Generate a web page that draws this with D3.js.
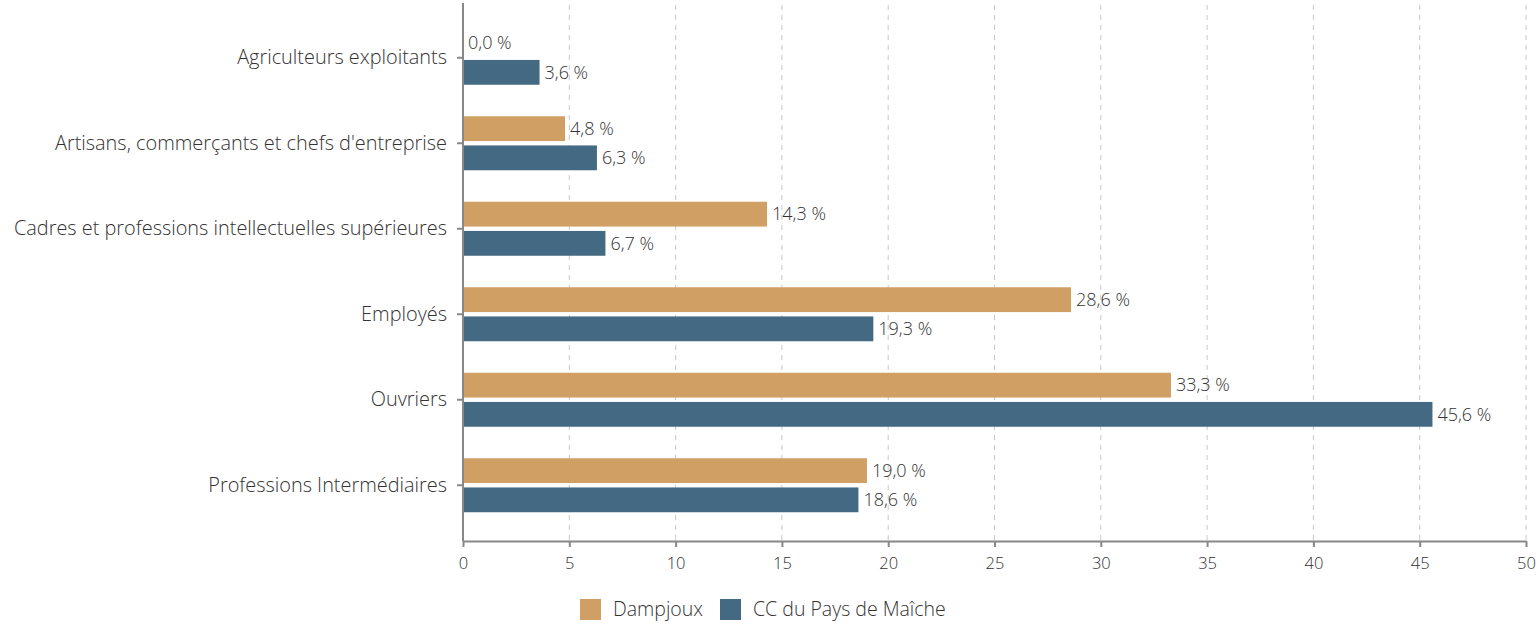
<!DOCTYPE html>
<html>
<head>
<meta charset="utf-8">
<script src="https://cdn.jsdelivr.net/npm/d3@7"></script>
<style>
    body { margin: 0; background: #fff; }
    text { font-family: "Open Sans", sans-serif; font-weight: 300; fill: #333; }
</style>
</head>
<body>
<div class="chart"></div>
<script>
// data
let categories = ["Agriculteurs exploitants", "Artisans, commerçants et chefs d'entreprise",
    "Cadres et professions intellectuelles supérieures", "Employés", "Ouvriers", "Professions Intermédiaires"];
let seriesNames = ["Dampjoux", "CC du Pays de Maîche"];
let dampjoux = [0.0, 4.8, 14.3, 28.6, 33.3, 19.0];
let maiche = [3.6, 6.3, 6.7, 19.3, 45.6, 18.6];
let xTicks = [0, 5, 10, 15, 20, 25, 30, 35, 40, 45, 50];
let colors = ["#cf9f64", "#446a83"];

let width = 1540, height = 628;

let svg = d3.select(".chart").append("svg")
    .attr("width", width)
    .attr("height", height);

let x = d3.scaleLinear().domain([0, 50]).range([463, 1526]);
let y = d3.scaleBand().domain(categories).range([15, 528]);
let inner = d3.scaleBand().domain(seriesNames).range([-27, 27]).paddingInner(0.15);

let axisY = 541;

// dashed grid
svg.append("g")
    .selectAll("line")
    .data(xTicks.slice(1))
    .enter()
    .append("line")
    .attr("x1", d => x(d)).attr("x2", d => x(d))
    .attr("y1", 5).attr("y2", axisY)
    .attr("stroke", "#c8c8c8")
    .attr("stroke-width", 1)
    .attr("stroke-dasharray", "5,5");

// bars
let rows = categories.map((c, i) => ({cat: c, values: [dampjoux[i], maiche[i]]}));

let groups = svg.selectAll(".grp")
    .data(rows)
    .enter()
    .append("g")
    .attr("class", "grp")
    .attr("transform", d => `translate(0, ${y(d.cat) + y.bandwidth() / 2})`);

groups.selectAll("rect")
    .data(d => d.values.map((v, j) => ({name: seriesNames[j], v: v, j: j})))
    .enter()
    .append("rect")
    .attr("x", x(0))
    .attr("y", d => inner(d.name))
    .attr("width", d => x(d.v) - x(0))
    .attr("height", inner.bandwidth())
    .attr("fill", d => colors[d.j]);

groups.selectAll("text.val")
    .data(d => d.values.map((v, j) => ({name: seriesNames[j], v: v})))
    .enter()
    .append("text")
    .attr("class", "val")
    .attr("x", d => x(d.v) + 5)
    .attr("y", d => inner(d.name) + inner.bandwidth() / 2)
    .attr("dy", "0.35em")
    .style("font-size", "18px")
    .text(d => d.v.toFixed(1).replace(".", ",") + " %");

// y axis
let yAxis = svg.append("g")
    .attr("transform", `translate(${x(0)}, 0)`)
    .call(d3.axisLeft(y).tickSize(6).tickPadding(10));
yAxis.select(".domain").remove();
yAxis.append("line")
    .attr("y1", 3).attr("y2", axisY)
    .attr("stroke", "#888").attr("stroke-width", 2);
yAxis.selectAll(".tick line").attr("stroke", "#888").attr("stroke-width", 2);
yAxis.selectAll(".tick text").style("font-size", "19.9px").style("fill", "#333");

// x axis
let xAxis = svg.append("g")
    .attr("transform", `translate(0, ${axisY})`)
    .call(d3.axisBottom(x).tickValues(xTicks).tickSize(6).tickSizeOuter(0).tickPadding(10));
xAxis.select(".domain").attr("stroke", "#888").attr("stroke-width", 2);
xAxis.selectAll(".tick line").attr("stroke", "#888").attr("stroke-width", 2);
xAxis.selectAll(".tick text").style("font-size", "16.5px").style("fill", "#333");

// legend
let legendX = [580, 720];
let legend = svg.selectAll(".legend")
    .data(seriesNames)
    .enter()
    .append("g")
    .attr("class", "legend")
    .attr("transform", (d, i) => `translate(${legendX[i]}, 599)`);
legend.append("rect")
    .attr("width", 21).attr("height", 21)
    .attr("fill", (d, i) => colors[i]);
legend.append("text")
    .attr("x", 33).attr("y", 10.5)
    .attr("dy", "0.35em")
    .style("font-size", "19.5px")
    .text(d => d);
</script>
</body>
</html>
